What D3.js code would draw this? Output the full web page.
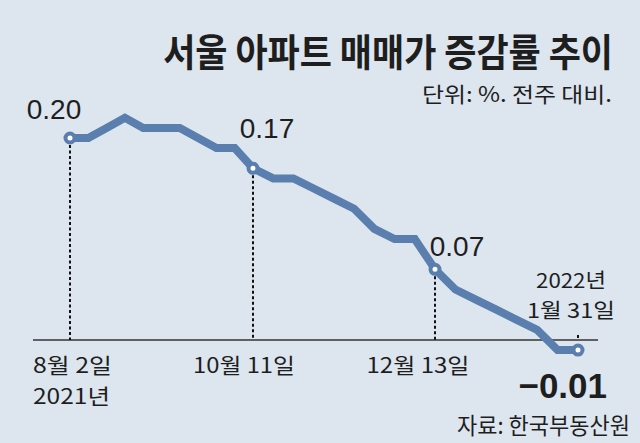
<!DOCTYPE html>
<html>
<head>
<meta charset="utf-8">
<script src="https://cdn.jsdelivr.net/npm/d3@7"></script>
<style>
  html, body { margin: 0; padding: 0; background: #dde5ee; }
  svg { display: block; }
  .kr { font-family: "Noto Sans CJK KR", "Noto Sans", sans-serif; fill: #1e1e1e; }
  .num { font-family: "Liberation Sans", Arial, sans-serif; fill: #1e1e1e; }
</style>
</head>
<body>
<svg id="chart" width="640" height="443"></svg>
<script>
// weekly change of Seoul apartment prices, % vs previous week
var weeks = ["2021-08-02","2021-08-09","2021-08-16","2021-08-23","2021-08-30",
             "2021-09-06","2021-09-13","2021-09-20","2021-09-27",
             "2021-10-04","2021-10-11","2021-10-18","2021-10-25",
             "2021-11-01","2021-11-08","2021-11-15","2021-11-22","2021-11-29",
             "2021-12-06","2021-12-13","2021-12-20","2021-12-27",
             "2022-01-03","2022-01-10","2022-01-17","2022-01-24","2022-01-31"];
var values = [0.20, 0.20, 0.21, 0.22, 0.21,
              0.21, 0.21, 0.20, 0.19,
              0.19, 0.17, 0.16, 0.16,
              0.15, 0.14, 0.13, 0.11, 0.10,
              0.10, 0.07, 0.05, 0.04,
              0.03, 0.02, 0.01, -0.01, -0.01];
var markedWeeks = ["2021-08-02", "2021-10-11", "2021-12-13", "2022-01-31"];
var markedLabels = ["0.20", "0.17", "0.07", "\u22120.01"];
var dateTexts = ["8월 2일", "2021년", "10월 11일", "12월 13일", "2022년", "1월 31일"];

var parse = d3.timeParse("%Y-%m-%d");
var fmt = d3.timeFormat("%Y-%m-%d");
var data = weeks.map(function(w, i) { return {date: parse(w), value: values[i]}; });
var marked = data.filter(function(d) { return markedWeeks.indexOf(fmt(d.date)) >= 0; });

var svg = d3.select("#chart");
svg.append("rect").attr("width", 640).attr("height", 443).attr("fill", "#dde5ee");

// the artist spaced the marked weeks a little unevenly, so the time scale is piecewise
var x = d3.scaleTime()
    .domain(markedWeeks.map(parse))
    .range([70, 253, 435, 578]);
var y = d3.scaleLinear().domain([0, 0.20]).range([340, 138]);

// korean type in the original is condensed: squeeze text horizontally to a width
function squeezed(str, px, py, size, len, anchor, weight) {
    var t = svg.append("text").attr("class", "kr")
        .attr("font-size", size)
        .attr("font-weight", weight || "normal")
        .attr("text-anchor", anchor)
        .text(str);
    var w = t.node().getComputedTextLength();
    t.attr("transform", "translate(" + px + "," + py + ") scale(" + (len / w) + ",1)");
    return t;
}

// title
squeezed("서울 아파트 매매가 증감률 추이", 613, 66, 38, 450, "end", "bold");
squeezed("단위: %. 전주 대비.", 612, 102, 21, 190, "end");

// zero line
svg.append("line")
    .attr("x1", 33).attr("x2", 598)
    .attr("y1", y(0)).attr("y2", y(0))
    .attr("stroke", "#333").attr("stroke-width", 1.3);

// dotted guides from marked points down to zero
svg.selectAll(".guide")
  .data(marked)
  .enter().append("line")
    .attr("class", "guide")
    .attr("x1", function(d) { return x(d.date); })
    .attr("x2", function(d) { return x(d.date); })
    .attr("y1", function(d) { return d.value > 0 ? y(d.value) + 7 : y(0) - 5; })
    .attr("y2", y(0))
    .attr("stroke", "#111").attr("stroke-width", 2)
    .attr("stroke-dasharray", "3,2.5");

var line = d3.line()
    .x(function(d) { return x(d.date); })
    .y(function(d) { return y(d.value); });

svg.append("path")
    .datum(data)
    .attr("d", line)
    .attr("fill", "none")
    .attr("stroke", "#5a7fae")
    .attr("stroke-width", 8)
    .attr("stroke-linejoin", "miter");

svg.selectAll(".dot")
  .data(marked)
  .enter().append("circle")
    .attr("class", "dot")
    .attr("cx", function(d) { return x(d.date); })
    .attr("cy", function(d) { return y(d.value); })
    .attr("r", 4.5)
    .attr("fill", "#fff")
    .attr("stroke", "#5a7fae")
    .attr("stroke-width", 4);

// value labels, offsets per point
var labelOffsets = [[-16, -19], [14, -30], [22, -13], [29, 48]];
var labelAnchors = ["middle", "middle", "middle", "end"];
svg.selectAll(".val")
  .data(marked)
  .enter().append("text")
    .attr("class", "num val")
    .attr("x", function(d, i) { return x(d.date) + labelOffsets[i][0]; })
    .attr("y", function(d, i) { return y(d.value) + labelOffsets[i][1]; })
    .attr("text-anchor", function(d, i) { return labelAnchors[i]; })
    .attr("font-size", function(d, i) { return i == 3 ? 35 : 28; })
    .attr("font-weight", function(d, i) { return i == 3 ? "bold" : "normal"; })
    .text(function(d, i) { return markedLabels[i]; });

// date labels
var dateLayout = [
    {x: 33,  y: 373, anchor: "start",  len: 79,  size: 21},
    {x: 33,  y: 404, anchor: "start",  len: 77,  size: 21},
    {x: 244, y: 373, anchor: "middle", len: 102, size: 21},
    {x: 418, y: 373, anchor: "middle", len: 103, size: 21},
    {x: 571, y: 288, anchor: "middle", len: 70,  size: 20.5},
    {x: 571, y: 318, anchor: "middle", len: 88,  size: 20.5}
];
dateTexts.forEach(function(t, i) {
    var l = dateLayout[i];
    squeezed(t, l.x, l.y, l.size, l.len, l.anchor);
});

// source
squeezed("자료: 한국부동산원", 630, 434, 23, 173, "end");
</script>
</body>
</html>
